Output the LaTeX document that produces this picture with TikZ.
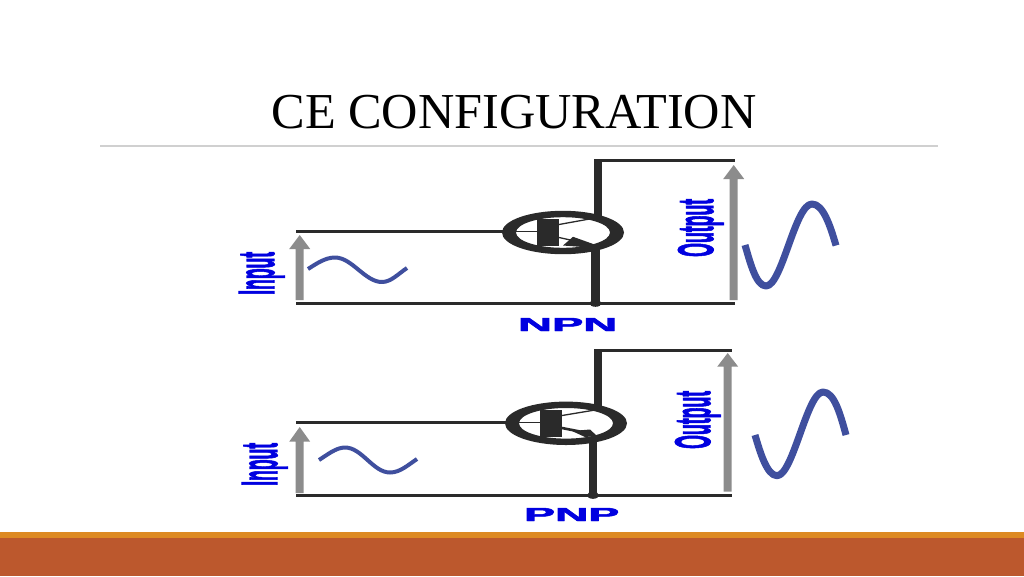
\documentclass[tikz,border=0pt]{standalone}
\usepackage{graphicx}
\usepackage{fontspec}
\setmainfont{Liberation Serif}
\newfontfamily\titlefont{Liberation Serif}
\newfontfamily\labelfont{Liberation Sans}[BoldFeatures={FakeBold=2.5}]
\definecolor{wirecol}{HTML}{2A2A2A}
\definecolor{arrowcol}{HTML}{8C8C8C}
\definecolor{sinecol}{HTML}{3F4F9E}
\definecolor{labelcol}{HTML}{0000E0}
\definecolor{rulecol}{HTML}{D0D0D0}
\definecolor{bandcol}{HTML}{DD8A23}
\definecolor{footcol}{HTML}{BC582D}
\tikzset{
  wire/.style={draw=wirecol,line width=2.6pt},
  thickwire/.style={draw=wirecol,line width=8pt},
  thinwire/.style={draw=wirecol,line width=1.3pt},
  sinewave/.style={draw=sinecol,line join=round},
  siglabel/.style={text=labelcol,inner sep=0pt,font=\labelfont\bfseries},
  vlabel/.style={siglabel,rotate=90,anchor=base west},
  hlabel/.style={siglabel,anchor=base west},
}
% gray arrow: x, bottom, tip, head base
\newcommand{\sigarrow}[4]{%
  \fill[arrowcol] (#1-4,#2) -- (#1-4,#4) -- (#1-10.5,#4) -- (#1,#3) -- (#1+10.5,#4) -- (#1+4,#4) -- (#1+4,#2) -- cycle;}
% transistor ring: centre x, centre y
\newcommand{\ring}[2]{%
  \fill[wirecol,even odd rule] (#1,#2) ellipse [x radius=61,y radius=21.7] (#1,#2) ellipse [x radius=47,y radius=15.3];}
\begin{document}
\begin{tikzpicture}[x=1pt,y=-1pt]
\useasboundingbox (0,0) rectangle (1024,576);
\fill[white] (0,0) rectangle (1024,576);
% footer
\fill[footcol] (0,537) rectangle (1024,576);
\fill[bandcol] (0,532) rectangle (1024,538);
% title
\node[inner sep=0pt,anchor=base,font=\titlefont\fontsize{50.3}{52}\selectfont] (title) at (514,128.5) {CE CONFIGURATION};
\coordinate (ruleL) at (100,145.7);
\coordinate (ruleR) at (938,145.7);
\draw[rulecol,line width=1.6pt] (ruleL) -- (ruleR);

% ---- NPN ----
\coordinate (n1in) at (296,231.3);
\coordinate (n1base) at (505,231.3);
\coordinate (n1gnd) at (296,303.3);
\coordinate (n1gndR) at (735,303.3);
\coordinate (n1colT) at (598,160.3);
\coordinate (n1colR) at (735,160.3);
\coordinate (n1colB) at (598,216);
\coordinate (n1emT) at (595.5,250);
\coordinate (n1emB) at (595.5,303.3);
\draw[wire] (n1in) -- (n1base);
\draw[wire] (n1gnd) -- (n1gndR);
\draw[wire] (n1colT) -- (n1colR);
\draw[thickwire] (598,159) -- (n1colB);
\draw[thickwire,line width=9pt] (n1emT) -- (n1emB);
\fill[wirecol] (n1emB) ellipse [x radius=6,y radius=3.5];
\ring{563}{232.5}
\fill[wirecol] (537,219) rectangle (559,245.7);
\draw[thinwire] (516,231.3) -- (537,231.3);
\draw[thinwire] (559,224.5) -- (595,218);
\draw[thinwire] (559,237.5) -- (575,241);
\fill[wirecol] (563,245.5) -- (573,236.8) -- (596,245) -- (596,248) -- cycle;
\sigarrow{299.7}{300}{235}{249}
\sigarrow{733.7}{300}{165}{179}
\draw[sinewave,line width=4pt] (308,269) .. controls (316,264) and (325,257.5) .. (335,257.5) .. controls (352,257.5) and (365,282) .. (382,282) .. controls (391,282) and (398,274) .. (407,268);
\draw[sinewave,line width=7pt] (745,245) .. controls (750,262) and (756,286) .. (766,286) .. controls (782,286) and (795,204) .. (812,204) .. controls (823,204) and (830,225) .. (836,245.5);
\node[vlabel] (n1input) at (274,295) {\resizebox{43pt}{35pt}{Input}};
\node[vlabel] (n1output) at (713,257) {\resizebox{58pt}{35pt}{Output}};
\node[hlabel] (n1name) at (518,331) {\resizebox{99pt}{13pt}{NPN}};

% ---- PNP ----
\coordinate (p1in) at (296,422.3);
\coordinate (p1base) at (509,422.3);
\coordinate (p1gnd) at (296,495.3);
\coordinate (p1gndR) at (732,495.3);
\coordinate (p1colT) at (598,350.3);
\coordinate (p1colR) at (732,350.3);
\coordinate (p1colB) at (598,406);
\coordinate (p1emT) at (593,442);
\coordinate (p1emB) at (593,495.3);
\draw[wire] (p1in) -- (p1base);
\draw[wire] (p1gnd) -- (p1gndR);
\draw[wire] (p1colT) -- (p1colR);
\draw[thickwire] (598,349) -- (p1colB);
\draw[thickwire] (p1emT) -- (p1emB);
\fill[wirecol] (p1emB) ellipse [x radius=6,y radius=3.5];
\ring{566}{423.3}
\fill[wirecol] (540,410) rectangle (562,436.7);
\draw[thinwire] (519,422.3) -- (540,422.3);
\draw[thinwire] (562,415.5) -- (595,410);
\draw[wirecol,line width=2.6pt] (562,428) -- (590,433.5);
\fill[wirecol] (572,431) -- (590,429.5) -- (597,436) -- (585,437) -- cycle;
\sigarrow{299.7}{493}{427}{441.7}
\sigarrow{727.7}{491.7}{353}{366.7}
\draw[sinewave,line width=4pt] (319,460) .. controls (327,455) and (336,447.5) .. (345,447.5) .. controls (362,447.5) and (373,472.5) .. (390,472.5) .. controls (400,472.5) and (408,465) .. (417,459);
\draw[sinewave,line width=7pt] (755,435) .. controls (760,452) and (767,475.7) .. (777,475.7) .. controls (793,475.7) and (807,392) .. (823,392) .. controls (834,392) and (840,413) .. (846,435);
\node[vlabel] (p1input) at (277,486) {\resizebox{43pt}{35pt}{Input}};
\node[vlabel] (p1output) at (710,449) {\resizebox{58pt}{35pt}{Output}};
\node[hlabel] (p1name) at (524,521) {\resizebox{95pt}{13pt}{PNP}};
\end{tikzpicture}
\end{document}
